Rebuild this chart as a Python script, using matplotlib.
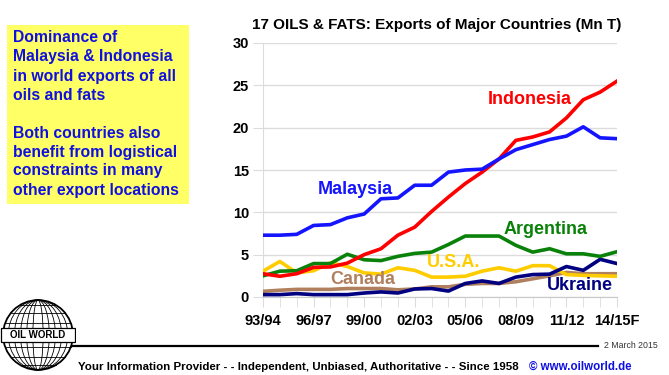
import numpy as np
import matplotlib
matplotlib.use('Agg')
import matplotlib.pyplot as plt
from matplotlib.patches import Circle, Ellipse, Rectangle

plt.rcParams['font.family'] = ['Liberation Sans', 'DejaVu Sans']

# seasons 93/94 .. 14/15F
seasons = ['93/94', '94/95', '95/96', '96/97', '97/98', '98/99', '99/00', '00/01', '01/02',
           '02/03', '03/04', '04/05', '05/06', '06/07', '07/08', '08/09', '09/10', '10/11',
           '11/12', '12/13', '13/14', '14/15F']

indonesia = [2.75, 2.45, 2.75, 3.5, 3.55, 4.0, 5.0, 5.7, 7.3, 8.25, 10.1, 11.8, 13.4, 14.75,
             16.3, 18.5, 18.9, 19.5, 21.15, 23.3, 24.2, 25.5]
malaysia = [7.3, 7.3, 7.4, 8.45, 8.55, 9.35, 9.8, 11.6, 11.7, 13.2, 13.2, 14.75, 15.0, 15.1,
            16.3, 17.4, 18.0, 18.6, 19.0, 20.1, 18.8, 18.7]
argentina = [2.5, 3.05, 3.1, 3.95, 3.95, 5.05, 4.4, 4.3, 4.8, 5.15, 5.3, 6.2, 7.2, 7.2,
             7.2, 6.1, 5.3, 5.7, 5.1, 5.1, 4.8, 5.35]
usa = [3.05, 4.2, 2.85, 3.1, 4.05, 3.6, 2.85, 2.7, 3.45, 3.15, 2.35, 2.35, 2.45, 3.05,
       3.45, 3.05, 3.7, 3.7, 2.65, 2.55, 2.5, 2.45]
canada = [0.67, 0.8, 0.9, 0.9, 0.9, 1.0, 1.0, 1.0, 0.85, 0.95, 1.2, 1.2, 1.5, 1.6,
          1.6, 1.8, 2.15, 2.5, 2.9, 2.75, 2.75, 2.75]
ukraine = [0.28, 0.28, 0.4, 0.28, 0.28, 0.28, 0.47, 0.6, 0.47, 0.95, 1.0, 0.7, 1.6, 1.9,
           1.6, 2.35, 2.65, 2.7, 3.6, 3.15, 4.45, 3.95]

x = np.arange(len(seasons))

fig = plt.figure(figsize=(6.69, 3.75), dpi=100)
W, H = 669, 375

ax = fig.add_axes([263 / W, 1 - 297 / H, 354 / W, 254 / H])

# draw order: lower series first, big exporters on top
series = [
    (canada, '#b07f5e', 'Canada', 5.9, 2.1),
    (usa, '#ffcc00', 'U.S.A.', 11.3, 4.05),
    (ukraine, '#000080', 'Ukraine', 18.8, 1.4),
    (argentina, '#0a820a', 'Argentina', 16.75, 8.0),
    (indonesia, '#ff0000', 'Indonesia', 15.8, 23.3),
    (malaysia, '#1414ff', 'Malaysia', 5.5, 12.75),
]
for vals, col, name, tx, ty in series:
    ax.plot(x, vals, color=col, lw=2.6, solid_joinstyle='round', zorder=3)
    ax.text(tx, ty, name, color=col, fontsize=13, fontweight='bold',
            ha='center', va='center', zorder=4)

ax.set_xlim(0, len(seasons) - 1)
ax.set_ylim(0, 30)
ax.set_yticks(range(0, 31, 5))
ax.set_xticks(x[::3])
ax.set_xticklabels(seasons[::3])
ax.set_xticks(x, minor=True)
ax.grid(axis='y', color='#dcdcdc', lw=1)
ax.set_axisbelow(True)
for s in ('top', 'right'):
    ax.spines[s].set_visible(False)
ax.spines['left'].set_color('#dcdcdc')
ax.spines['bottom'].set_color('#c8c8c8')
ax.tick_params(axis='y', length=7, color='#dcdcdc', pad=3, labelsize=10.5)
ax.tick_params(axis='x', which='both', length=7, color='#dcdcdc', pad=5, labelsize=10.5)
for lab in ax.get_xticklabels() + ax.get_yticklabels():
    lab.set_fontweight('bold')

fig.text(437 / W, 1 - 25 / H, '17 OILS & FATS: Exports of Major Countries (Mn T)',
         ha='center', va='center', fontsize=11, fontweight='bold')

# yellow comment box
fig.patches.append(Rectangle((7 / W, 1 - 204 / H), 182 / W, 179 / H,
                             transform=fig.transFigure, facecolor='#ffff66',
                             edgecolor='none', zorder=0))
box_lines = ['Dominance of', 'Malaysia & Indonesia', 'in world exports of all',
             'oils and fats', '', 'Both countries also', 'benefit from logistical',
             'constraints in many', 'other export locations']
for i, line in enumerate(box_lines):
    fig.text(13 / W, 1 - (38 + 19 * i) / H, line, ha='left', va='center',
             fontsize=11.3, fontweight='bold', color='#1010e0')

# footer
fig.add_artist(plt.Line2D([72 / W, 598 / W], [1 - 346 / H] * 2, color='black', lw=1.6,
                          transform=fig.transFigure))
fig.text(604 / W, 1 - 346 / H, '2 March 2015', ha='left', va='center', fontsize=6.3,
         color='#333333')
fig.text(78 / W, 1 - 367 / H,
         'Your Information Provider - - Independent, Unbiased, Authoritative - - Since 1958',
         ha='left', va='center', fontsize=8.25, fontweight='bold')
fig.text(529 / W, 1 - 367 / H, '\u00a9 www.oilworld.de', ha='left', va='center',
         fontsize=8.3, fontweight='bold', color='#1010e0')

# OIL WORLD globe logo
lax = fig.add_axes([0, 1 - 373 / H, 76 / W, 76 / H])
lax.set_xlim(-37, 37)
lax.set_ylim(-37, 37)
lax.axis('off')
lax.add_patch(Circle((0, 0), 34, facecolor='white', edgecolor='black', lw=1.3))
for w in (10, 22, 34, 46, 58):
    lax.add_patch(Ellipse((0, 0), w, 68, facecolor='none', edgecolor='black', lw=0.6))
for yy in (-29, -21, -12, 12, 21, 29):
    half = np.sqrt(34 ** 2 - yy ** 2)
    lax.plot([-half, half], [yy, yy], color='black', lw=0.6)
lax.add_patch(Rectangle((-36, -6.5), 72, 13, facecolor='white', edgecolor='black', lw=0.9,
                        zorder=3))
lax.text(0, 0, 'OIL WORLD', ha='center', va='center', fontsize=7, fontweight='bold',
         zorder=4)

fig.savefig('out.png', dpi=100)
